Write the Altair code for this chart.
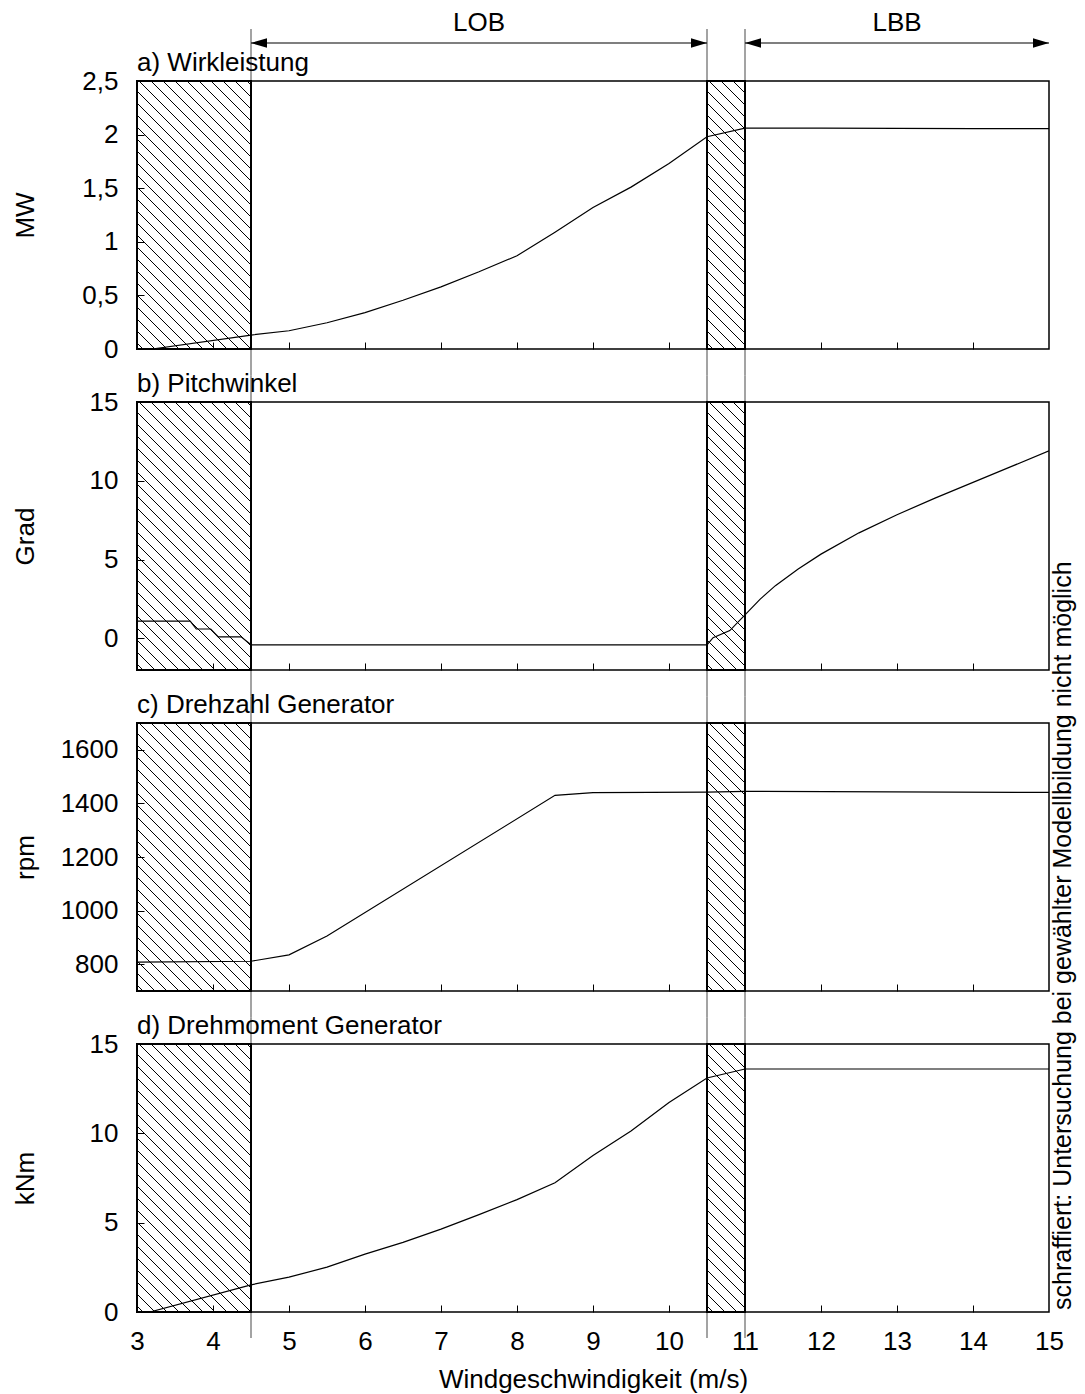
import altair as alt
import pandas as pd

FONT = "Liberation Sans"

# ---------------- data ----------------
wind_a = [3.2, 4.5, 5.0, 5.5, 6.0, 6.5, 7.0, 7.5, 8.0, 8.5, 9.0, 9.5, 10.0, 10.5, 11.0, 12.0, 13.0, 14.0, 15.0]
power_mw = [0.0, 0.13, 0.17, 0.245, 0.34, 0.455, 0.58, 0.72, 0.87, 1.09, 1.32, 1.51, 1.73, 1.98, 2.06, 2.06, 2.058, 2.056, 2.055]

wind_b = [3.0, 3.7, 3.78, 3.97, 4.07, 4.37, 4.5, 10.5, 10.58, 10.8, 11.0, 11.2, 11.4, 11.7, 12.0, 12.5, 13.0, 13.5, 14.0, 14.5, 15.0]
pitch_deg = [1.1, 1.1, 0.6, 0.6, 0.1, 0.1, -0.4, -0.4, 0.05, 0.5, 1.5, 2.5, 3.35, 4.4, 5.35, 6.7, 7.85, 8.9, 9.9, 10.9, 11.9]

wind_c = [3.0, 4.5, 5.0, 5.5, 8.5, 9.0, 10.5, 11.0, 15.0]
speed_rpm = [808, 811, 835, 905, 1430, 1440, 1442, 1445, 1441]

wind_d = [3.17, 4.5, 5.0, 5.5, 6.0, 6.5, 7.0, 7.5, 8.0, 8.5, 9.0, 9.5, 10.0, 10.5, 11.0, 15.0]
torque_knm = [0.0, 1.52, 1.95, 2.51, 3.24, 3.9, 4.64, 5.45, 6.29, 7.23, 8.76, 10.13, 11.72, 13.1, 13.6, 13.6]

hatch_from = [3.0, 10.5]
hatch_to = [4.5, 11.0]
boundary_x = [4.5, 10.5, 11.0]
range_from = [4.5, 11.0]
range_to = [10.5, 15.0]
range_label = ["LOB", "LBB"]
x_label_ticks = [3, 4, 5, 6, 7, 8, 9, 10, 11, 12, 13, 14, 15]
x_inner_ticks = [4, 5, 6, 7, 8, 9, 10, 11, 12, 13, 14]
note_text = "schraffiert: Untersuchung bei gewählter Modellbildung nicht möglich"

panels = [
    dict(title="a) Wirkleistung", ytitle="MW", wind=wind_a, vals=power_mw,
         dom=[0, 2.5], labels=[0, 0.5, 1, 1.5, 2, 2.5], inner=[0.5, 1, 1.5, 2]),
    dict(title="b) Pitchwinkel", ytitle="Grad", wind=wind_b, vals=pitch_deg,
         dom=[-2, 15], labels=[0, 5, 10, 15], inner=[0, 5, 10]),
    dict(title="c) Drehzahl Generator", ytitle="rpm", wind=wind_c, vals=speed_rpm,
         dom=[700, 1700], labels=[800, 1000, 1200, 1400, 1600], inner=[800, 1000, 1200, 1400, 1600]),
    dict(title="d) Drehmoment Generator", ytitle="kNm", wind=wind_d, vals=torque_knm,
         dom=[0, 15], labels=[0, 5, 10, 15], inner=[5, 10]),
]

# ---------------- layout / style ----------------
W, H = 912, 268
GAP = 53
xscale = alt.Scale(domain=[3, 15], nice=False, zero=False)
LABEL_EXPR = "replace(format(datum.value, '~g'), '.', ',')"


def hatch_fill(w_px, h_px, spacing=12.0, lw=1.5):
    """Diagonal hatching ('\\') as a hard-stop linear gradient in bbox units."""
    r = h_px / w_px
    dx = (1 + r) / (1 + r * r)
    n = (w_px + h_px) / spacing
    half = (lw / (w_px + h_px)) / 2
    stops = [{"offset": 0, "color": "white"}]
    i = 0
    while (i + 0.5) / n < 1:
        c = (i + 0.5) / n
        a, b = max(c - half, 0), min(c + half, 1)
        stops += [{"offset": a, "color": "white"}, {"offset": a, "color": "black"},
                  {"offset": b, "color": "black"}, {"offset": b, "color": "white"}]
        i += 1
    stops.append({"offset": 1, "color": "white"})
    return {"gradient": "linear", "x1": 0, "y1": 1, "x2": dx, "y2": 1 - dx * r, "stops": stops}


unit = W / (xscale.domain[1] - xscale.domain[0])
grad1 = hatch_fill((hatch_to[0] - hatch_from[0]) * unit, H)
grad2 = hatch_fill((hatch_to[1] - hatch_from[1]) * unit, H)

LEFT_HEAD = "M0,0L2,-0.6L2,0.6Z"
RIGHT_HEAD = "M0,0L-2,-0.6L-2,0.6Z"


def make_panel(p, first, last):
    sc_y = alt.Scale(domain=p["dom"], nice=False, zero=False)
    line_df = pd.DataFrame({"wind": p["wind"], "val": p["vals"]})
    h1 = pd.DataFrame({"x0": [hatch_from[0]], "x1": [hatch_to[0]], "y0": [p["dom"][0]], "y1": [p["dom"][1]]})
    h2 = pd.DataFrame({"x0": [hatch_from[1]], "x1": [hatch_to[1]], "y0": [p["dom"][0]], "y1": [p["dom"][1]]})
    bdf = pd.DataFrame({"bx": boundary_x})

    tick_x = alt.Axis(orient="top", offset=-H, labels=False, domain=False, ticks=True, tickSize=7,
                      tickColor="black", tickWidth=1, values=x_inner_ticks, grid=False, title=None, zindex=1)
    tick_y = alt.Axis(orient="right", offset=-W, labels=False, domain=False, ticks=True, tickSize=7,
                      tickColor="black", tickWidth=1, values=p["inner"], grid=False, title=None, zindex=1)

    top_ext = -52 if first else -GAP / 2
    bot_ext = H + 26 if last else H + GAP / 2
    rules = alt.Chart(bdf).mark_rule(color="#666666", strokeWidth=1.2).encode(
        x=alt.X("bx:Q", scale=xscale, axis=None),
        y=alt.value(top_ext), y2=alt.value(bot_ext))

    rect1 = alt.Chart(h1).mark_rect(fill=grad1, stroke="black", strokeWidth=2).encode(
        x=alt.X("x0:Q", scale=xscale, axis=tick_x), x2="x1",
        y=alt.Y("y0:Q", scale=sc_y, axis=tick_y), y2="y1")
    rect2 = alt.Chart(h2).mark_rect(fill=grad2, stroke="black", strokeWidth=2).encode(
        x=alt.X("x0:Q", scale=xscale, axis=None), x2="x1",
        y=alt.Y("y0:Q", scale=sc_y, axis=None), y2="y1")

    if last:
        x_axis = alt.Axis(orient="bottom", values=x_label_ticks, ticks=False, tickSize=0, domain=False,
                          grid=False, labelPadding=16, title="Windgeschwindigkeit (m/s)", titlePadding=12,
                          labelFlush=False)
    else:
        x_axis = None
    y_axis = alt.Axis(orient="left", values=p["labels"], ticks=False, tickSize=0, domain=False, grid=False,
                      labelPadding=19, labelExpr=LABEL_EXPR, title=p["ytitle"], titleX=-112, titleY=H / 2,
                      titleAngle=270, titleAlign="center", titleBaseline="middle", labelFlush=False)

    line = alt.Chart(line_df).mark_line(color="black", strokeWidth=1.2, clip=True).encode(
        x=alt.X("wind:Q", scale=xscale, axis=x_axis),
        y=alt.Y("val:Q", scale=sc_y, axis=y_axis))

    ttl = alt.Chart(pd.DataFrame({"t": [p["title"]]})).mark_text(
        align="left", baseline="alphabetic", fontSize=26, font=FONT, color="black").encode(
        text="t:N", x=alt.value(0), y=alt.value(-10))

    layers = [rules, rect1, rect2, line, ttl]

    if first:
        rdf = pd.DataFrame({"a": range_from, "b": range_to, "lab": range_label})
        arr = alt.Chart(rdf).mark_rule(color="black", strokeWidth=1.2).encode(
            x=alt.X("a:Q", scale=xscale, axis=None), x2="b", y=alt.value(-38))
        hl = alt.Chart(rdf).mark_point(shape=LEFT_HEAD, size=256, filled=True, color="black",
                                       opacity=1, strokeWidth=0).encode(
            x=alt.X("a:Q", scale=xscale, axis=None), y=alt.value(-38))
        hr = alt.Chart(rdf).mark_point(shape=RIGHT_HEAD, size=256, filled=True, color="black",
                                       opacity=1, strokeWidth=0).encode(
            x=alt.X("b:Q", scale=xscale, axis=None), y=alt.value(-38))
        lab = alt.Chart(rdf).transform_calculate(mid="(datum.a + datum.b) / 2").mark_text(
            fontSize=26, font=FONT, baseline="middle", align="center", color="black").encode(
            x=alt.X("mid:Q", scale=xscale, axis=None), y=alt.value(-58), text="lab:N")
        layers += [arr, hl, hr, lab]

    if last:
        note = alt.Chart(pd.DataFrame({"t": [note_text]})).mark_text(
            angle=270, align="left", baseline="middle", fontSize=25, font=FONT, color="black").encode(
            text="t:N", x=alt.value(W + 14), y=alt.value(H - 2))
        layers.append(note)

    return alt.layer(*layers).resolve_axis(x="independent", y="independent").properties(width=W, height=H)


charts = [make_panel(p, i == 0, i == len(panels) - 1) for i, p in enumerate(panels)]

chart = alt.vconcat(*charts, spacing=GAP, bounds="flush").properties(
    padding={"left": 3, "top": 1, "right": 0, "bottom": 0}
).configure_view(stroke="black", strokeWidth=1.5).configure_axis(
    labelFont=FONT, labelFontSize=26, labelColor="black",
    titleFont=FONT, titleFontSize=26, titleFontWeight="normal", titleColor="black"
).configure_text(font=FONT)

chart.save("out.html", embed_options={"renderer": "svg", "actions": False})
